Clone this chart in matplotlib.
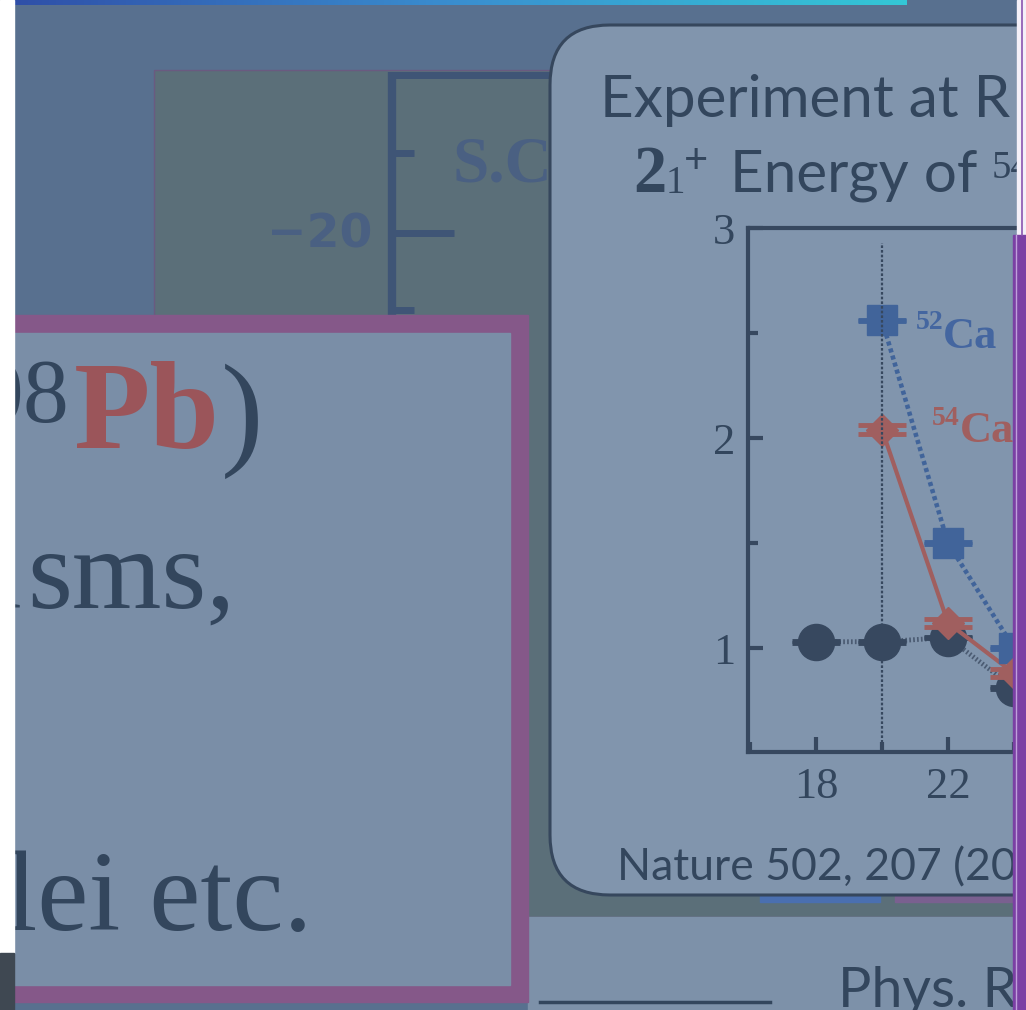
import numpy as np
import matplotlib
matplotlib.use('Agg')
import matplotlib.pyplot as plt
from matplotlib.patches import Rectangle, FancyBboxPatch
from matplotlib.colors import LinearSegmentedColormap
from matplotlib.ticker import MultipleLocator

# 2+ excitation energies (MeV) against neutron number
n_ref = [18, 20, 22, 24]
e_ref = [1.03, 1.03, 1.05, 0.81]
n_52 = [20, 22, 24]
e_52 = [2.56, 1.50, 1.00]
n_54 = [20, 22, 24]
e_54 = [2.04, 1.12, 0.88]
err_ref = [0.004, 0.004, 0.004, 0.004]
err_52 = [0.004, 0.004, 0.004]
err_54 = [0.02, 0.02, 0.02]

x_ticks = [18, 22, 26]
y_ticks = [1, 2, 3]

SLATE = '#58708f'
GREEN = '#5b6f79'
MAGENTA = '#855889'
PANE = '#7a8ea7'
CARD = '#8195ad'
INK = '#33465d'
AXBLUE = '#3f5576'
BLUE = '#41649a'
RED = '#a05f5f'
DARK = '#37485f'

W, H = 1026, 1010
fig = plt.figure(figsize=(W / 100, H / 100), dpi=100)

# slide layer, drawn in pixel units
bg = fig.add_axes([0, 0, 1, 1], zorder=0)
bg.axis('off')

bg.add_patch(Rectangle((0, 0), W, H, color=SLATE, zorder=0))
stripe = LinearSegmentedColormap.from_list('stripe', ['#2f4fa8', '#3a8fd0', '#34c7d6'])
bg.imshow(np.linspace(0, 1, 256)[None, :], cmap=stripe, extent=(14, 907, 5, 0),
          aspect='auto', zorder=1)

# older plot sitting behind
bg.add_patch(Rectangle((154, 70), 1000, 847, facecolor=GREEN, edgecolor='#6a5a80',
                       lw=1, zorder=1))
bg.plot([392, 392], [72, 330], color=AXBLUE, lw=6, solid_capstyle='butt', zorder=2)
bg.plot([389, 560], [75, 75], color=AXBLUE, lw=5, solid_capstyle='butt', zorder=2)
for ty, tx in [(153, 414), (233, 454), (310, 414)]:
    bg.plot([392, tx], [ty, ty], color=AXBLUE, lw=5, solid_capstyle='butt', zorder=2)
bg.text(372, 235, '\u221220', fontsize=34, fontweight='heavy', family='DejaVu Sans',
        color='#4a6082', ha='right', va='center', zorder=2)
bg.text(453, 182, 'S.C', fontsize=47, fontweight='bold', family='Liberation Serif',
        color='#4a6082', ha='left', va='baseline', zorder=2)

# lower right strip
bg.add_patch(Rectangle((528, 917), 600, 100, color='#7d91a9', zorder=1))
bg.plot([540, 770], [1002, 1002], color=INK, lw=2.5, zorder=2)
bg.text(838, 1007, 'Phys. R', fontsize=40, family='Lato', color=INK,
        ha='left', va='baseline', zorder=2)

# framed text box
bg.add_patch(Rectangle((0, 315), 528, 687, color=MAGENTA, zorder=3))
bg.add_patch(Rectangle((0, 333), 510, 652, color=PANE, zorder=3))
bg.text(24, 422, '20', fontsize=66, family='Liberation Serif', color=INK,
        ha='right', va='baseline', zorder=4)
bg.text(22, 422, '8', fontsize=66, family='Liberation Serif', color=INK,
        ha='left', va='baseline', zorder=4)
bg.text(74, 448, 'Pb', fontsize=90, fontweight='bold', family='Liberation Serif',
        color='#9b555a', ha='left', va='baseline', zorder=4)
bg.text(221, 452, ')', fontsize=92, family='Liberation Serif', color=INK,
        ha='left', va='baseline', zorder=4)
bg.text(23, 608, 'mechani', fontsize=83, family='Liberation Serif', color=INK,
        ha='right', va='baseline', zorder=4)
bg.text(27, 608, 'sms,', fontsize=83, family='Liberation Serif', color=INK,
        ha='left', va='baseline', zorder=4)
bg.text(312, 930, 'nuclei etc.', fontsize=83, family='Liberation Serif', color=INK,
        ha='right', va='baseline', zorder=4)

# card holding the measurement
bg.add_patch(Rectangle((760, 893), 120, 9, color='#4a6fb0', zorder=2))
bg.add_patch(Rectangle((895, 893), 120, 9, color='#7a6090', zorder=2))
bg.add_patch(FancyBboxPatch((550, 25), 650, 870, boxstyle='round,pad=0,rounding_size=60',
                            facecolor=CARD, edgecolor='#36475d', lw=2.2, zorder=3))
bg.text(600, 117, 'Experiment at R', fontsize=42, family='Lato', color=INK,
        ha='left', va='baseline', zorder=4)
bg.text(633, 192, '2', fontsize=48, fontweight='bold', family='Liberation Serif',
        color=INK, ha='left', va='baseline', zorder=4)
bg.text(666, 193, '1', fontsize=28, family='Liberation Serif', color=INK,
        ha='left', va='baseline', zorder=4)
bg.text(684, 173, '+', fontsize=30, family='Lato', color=INK,
        ha='left', va='baseline', zorder=4)
bg.text(730, 192, 'Energy of', fontsize=42, family='Lato', color=INK,
        ha='left', va='baseline', zorder=4)
bg.text(992, 178, '54', fontsize=28, family='Liberation Serif', color=INK,
        ha='left', va='baseline', zorder=4)
bg.text(617, 880, 'Nature 502, 207 (20', fontsize=32, family='Lato', color=INK,
        ha='left', va='baseline', zorder=4)

# white page edge on the left
bg.add_patch(Rectangle((0, 0), 14, 953, color='white', zorder=6))
bg.add_patch(Rectangle((0, 953), 14, 60, color='#3f4852', zorder=6))

bg.set_xlim(0, W)
bg.set_ylim(H, 0)

# energy plot
left, top, bottom, right = 748, 228, 752, 1160
ax = fig.add_axes([left / W, 1 - bottom / H, (right - left) / W, (bottom - top) / H],
                  zorder=2)
ax.patch.set_visible(False)
ax.set_xlim(15.94, 15.94 + (right - left) / 33.0)
ax.set_ylim(0.505, 3.0)

ax.plot([20, 20], [0.505, 2.93], color=DARK, lw=1.6, ls=(0, (1.2, 0.9)), zorder=6)

ax.plot(n_ref, e_ref, color='#4b5b72', lw=3.5, ls=(0, (0.35, 0.45)), zorder=2)
ax.errorbar(n_ref, e_ref, yerr=err_ref, fmt='o', ms=26, color=DARK, ecolor=DARK,
            capsize=17, capthick=3.5, elinewidth=3, zorder=3)

ax.plot(n_52, e_52, color=BLUE, lw=3.3, ls=(0, (0.9, 0.7)), zorder=2)
ax.errorbar(n_52, e_52, yerr=err_52, fmt='s', ms=21.5, color=BLUE, ecolor=BLUE,
            capsize=17, capthick=3.5, elinewidth=3, zorder=4)

ax.plot(n_54, e_54, color=RED, lw=3, zorder=4)
ax.errorbar(n_54, e_54, yerr=err_54, fmt='D', ms=16, color=RED, ecolor=RED,
            capsize=17, capthick=3.5, elinewidth=3, zorder=5)

ax.text(21.02, 2.52, '52', fontsize=20, fontweight='bold', family='Liberation Serif',
        color='#4466a0', ha='left', va='baseline')
ax.text(21.85, 2.43, 'Ca', fontsize=32, fontweight='bold', family='Liberation Serif',
        color='#4466a0', ha='left', va='baseline')
ax.text(21.52, 2.06, '54', fontsize=20, fontweight='bold', family='Liberation Serif',
        color=RED, ha='left', va='baseline')
ax.text(22.35, 1.98, 'Ca', fontsize=32, fontweight='bold', family='Liberation Serif',
        color=RED, ha='left', va='baseline')

for side in ['left', 'top', 'bottom']:
    ax.spines[side].set_linewidth(3)
    ax.spines[side].set_color(DARK)
ax.spines['right'].set_visible(False)
ax.set_xticks(x_ticks)
ax.set_yticks(y_ticks)
ax.xaxis.set_minor_locator(MultipleLocator(2))
ax.yaxis.set_minor_locator(MultipleLocator(0.5))
ax.tick_params(which='both', direction='in', width=3, color=DARK, top=False, right=False)
ax.tick_params(which='major', length=11)
ax.tick_params(which='minor', length=7)
ax.tick_params(axis='y', which='major', pad=9)
ax.tick_params(axis='x', which='major', pad=11)
for lab in ax.get_xticklabels() + ax.get_yticklabels():
    lab.set_family('Liberation Serif')
    lab.set_fontsize(32)
    lab.set_color(INK)

# purple frame on the right edge
ov = fig.add_axes([0, 0, 1, 1], zorder=3)
ov.axis('off')
ov.patch.set_visible(False)
ov.add_patch(Rectangle((1017, 0), 20, H, color='#f4f0f8'))
ov.plot([1022, 1022], [0, 235], color='#8a55b0', lw=1.2)
ov.add_patch(Rectangle((1013, 235), 20, H, color='#7b40a4'))
ov.plot([1016, 1016], [235, H], color='#c0a0dc', lw=1)
ov.set_xlim(0, W)
ov.set_ylim(H, 0)

fig.savefig('out.png', dpi=100)
